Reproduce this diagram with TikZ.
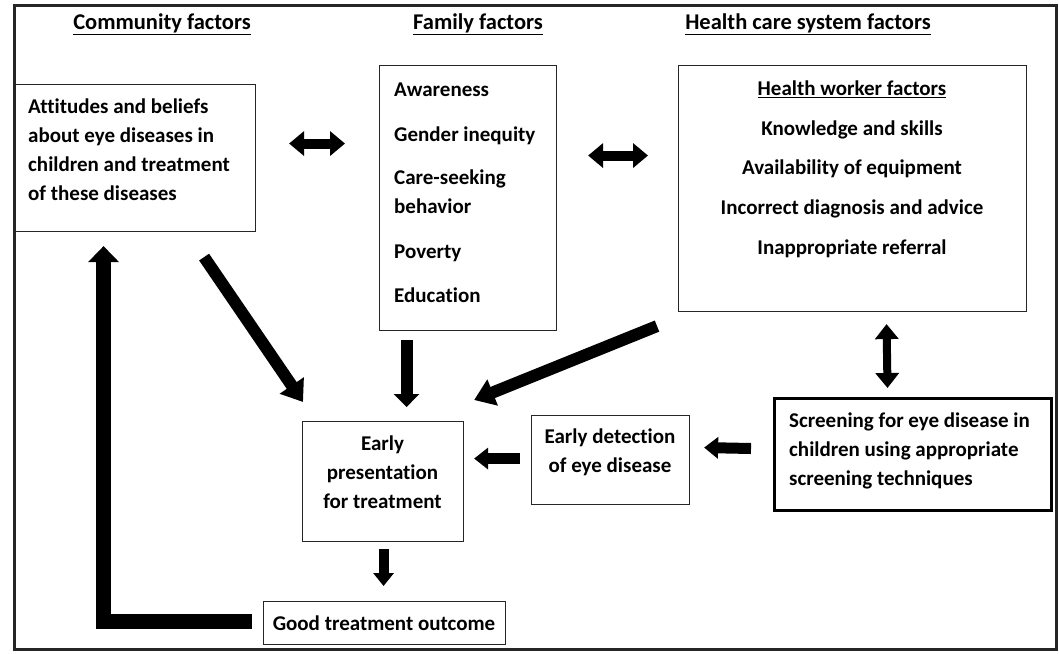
\documentclass[tikz,border=0pt]{standalone}
\usepackage{fontspec}
\setmainfont{Carlito}[Ligatures=CommonOff]
\usetikzlibrary{arrows.meta}
\begin{document}
\begin{tikzpicture}[x=1pt,y=-1pt,
  box/.style={draw=black!85,line width=1.1pt,rectangle,inner sep=0pt,anchor=north west},
  txt/.style={font=\bfseries\fontsize{21}{29}\selectfont,inner sep=0pt},
  hdr/.style={font=\bfseries\fontsize{22.5}{24}\selectfont,inner sep=0pt},
  blk/.style={line width=#1,line join=miter},
]
\useasboundingbox (0,0) rectangle (1059,653);
\draw[line width=3pt,draw=black!85] (14,5) rectangle (1056,649);

% headers
\node[hdr] (h1) at (162,24) {\underline{Community factors}};
\node[hdr] (h2) at (478,24) {\underline{Family factors}};
\node[hdr] (h3) at (808,24) {\underline{Health care system factors}};

% boxes
\node[box,minimum width=242,minimum height=147] (att) at (13,84) {};
\node[txt,align=left,anchor=west] (attt) at (28,150) {Attitudes and beliefs\\about eye diseases in\\children and treatment\\of these diseases};

\node[box,minimum width=177,minimum height=265] (fam) at (379,65) {};
\node[txt,align=left,anchor=west] (famt) at (394,193) {Awareness\\[16pt]Gender inequity\\[14pt]Care-seeking\\behavior\\[16pt]Poverty\\[15pt]Education};

\node[box,minimum width=348,minimum height=246] (hw) at (678,65) {};
\node[txt,align=center] (hwt) at (852,169.5) {\underline{Health worker factors}\\[11pt]Knowledge and skills\\[10pt]Availability of equipment\\[11pt]Incorrect diagnosis and advice\\[11pt]Inappropriate referral};

\node[box,minimum width=277,minimum height=112,line width=3pt,draw=black] (scr) at (773,397) {};
\node[txt,align=left,anchor=west] (scrt) at (789,451) {Screening for eye disease in\\children using appropriate\\screening techniques};

\node[box,minimum width=158,minimum height=89] (det) at (531,415) {};
\node[txt,align=center] (dett) at (610,452.5) {Early detection\\of eye disease};

\node[box,minimum width=161,minimum height=120] (pres) at (302,421) {};
\node[txt,align=center] (prest) at (382.5,472.5) {Early\\presentation\\for treatment};

\node[box,minimum width=242,minimum height=43] (good) at (263,601) {};
\node[txt] (goodt) at (384,623) {Good treatment outcome};

% connectors
\draw[blk=10pt,{Triangle[width=24pt,length=15pt]}-{Triangle[width=24pt,length=15pt]}]
  ([shift={(33,-14.5)}]att.east) -- ([shift={(-34,-54.5)}]fam.west);
\draw[blk=10pt,{Triangle[width=24pt,length=15pt]}-{Triangle[width=24pt,length=15pt]}]
  ([shift={(31,-42.5)}]fam.east) -- ([shift={(-30,-33)}]hw.west);
\draw[blk=8pt,{Triangle[width=23pt,length=15pt]}-{Triangle[width=23pt,length=15pt]}]
  ([shift={(34,12)}]hw.south) -- ([shift={(-25.5,-9)}]scr.north);
\draw[blk=12pt,-{Triangle[width=28pt,length=20pt]}]
  ([shift={(-52,25)}]att.south east) -- ([shift={(1,-19)}]pres.north west);
\draw[blk=12pt,-{Triangle[width=25pt,length=13pt]}]
  ([shift={(-61.5,9)}]fam.south) -- ([shift={(23.5,-14)}]pres.north);
\draw[blk=12pt,-{Triangle[width=27pt,length=20pt]}]
  ([shift={(-21,14)}]hw.south west) -- ([shift={(10,-21)}]pres.north east);
\draw[blk=11pt,-{Triangle[width=21pt,length=14pt]}]
  ([shift={(-22,-6)}]scr.west) -- ([shift={(14,-12.5)}]det.east);
\draw[blk=11pt,-{Triangle[width=21pt,length=14pt]}]
  ([shift={(-11,-1.5)}]det.west) -- ([shift={(10,-23)}]pres.east);
\draw[blk=10pt,-{Triangle[width=20pt,length=13pt]}]
  ([shift={(0.5,7)}]pres.south) -- ([shift={(-1,-15)}]good.north);
\draw[blk=15pt,-{Triangle[width=30pt,length=16pt]}]
  ([shift={(-11,-1.5)}]good.west) -| ([shift={(-31,14)}]att.south);
\end{tikzpicture}
\end{document}
